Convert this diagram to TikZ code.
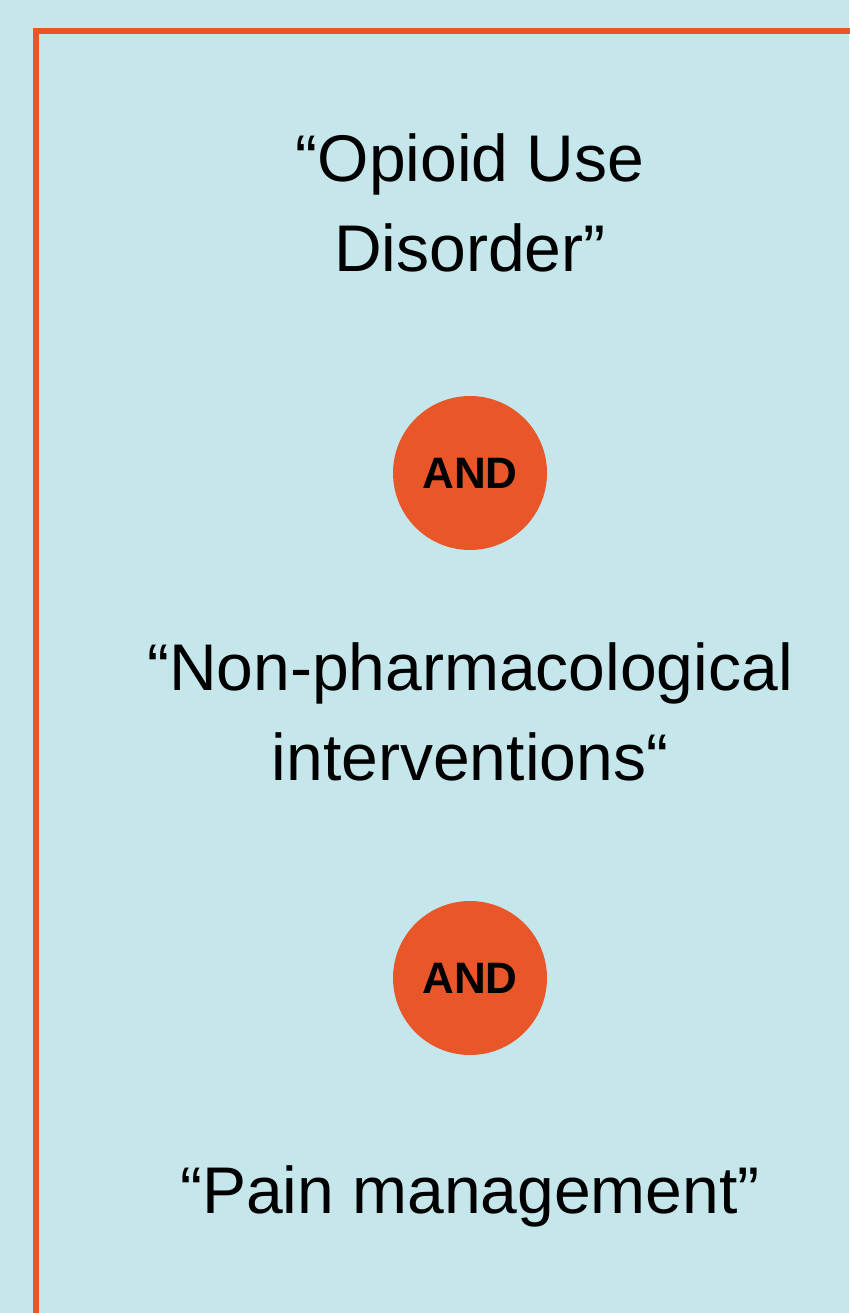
\documentclass[tikz,border=0pt]{standalone}
\usepackage{fontspec}
\setmainfont{Liberation Sans}
\definecolor{panelblue}{RGB}{197,231,236}
\definecolor{andorange}{RGB}{232,86,42}

\begin{document}
\begin{tikzpicture}[x=1pt,y=-1pt,
  term/.style={align=center,inner sep=0pt,anchor=base,font=\fontsize{66}{90}\selectfont},
  andnode/.style={circle,fill=andorange,minimum size=154pt,inner sep=0pt,font=\fontsize{44}{52}\selectfont\bfseries}]
\fill [panelblue] (0,0) rectangle (849,1313);
\useasboundingbox (0,0) rectangle (849,1313);
% frame, cut by the page edges
\draw [andorange,line width=6pt] (36,1330) -- (36,31) -- (870,31);
% search terms (base = last line)
\node [term] (oud) at (470,272) {“Opioid Use\\Disorder”};
\node [andnode] (and1) at (470,473) {AND};
\node [term] (nonpharm) at (470,780) {“Non-pharmacological\\interventions“};
\node [andnode] (and2) at (470,978) {AND};
\node [term] (pain) at (470,1213) {“Pain management”};
\end{tikzpicture}
\end{document}
